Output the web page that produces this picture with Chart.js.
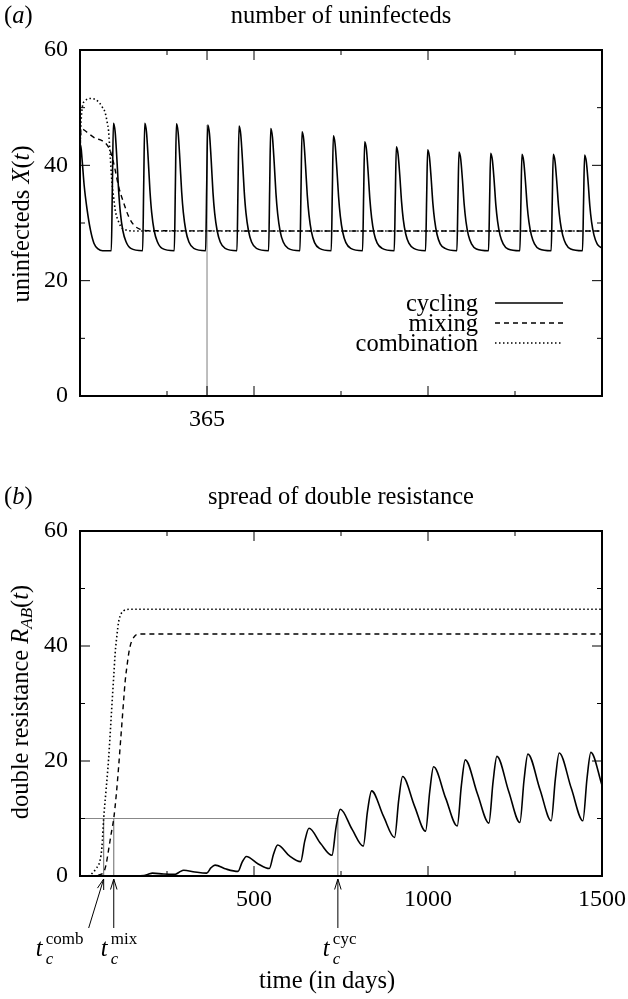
<!DOCTYPE html>
<html>
<head>
<meta charset="utf-8">
<script src="https://cdn.jsdelivr.net/npm/chart.js@4.4.0/dist/chart.umd.min.js"></script>
<style>
  body { margin: 0; background: #fff; }
  #wrap { position: relative; width: 628px; height: 999px; font-family: 'Liberation Serif', 'Times New Roman', serif; color: #000; }
  canvas { position: absolute; left: 0; }
  .txt { position: absolute; font-size: 24.5px; line-height: 1; white-space: nowrap; }
  .ctr { left: 80px; width: 522px; text-align: center; }
  .ytitle { position: absolute; font-size: 24.5px; line-height: 1; white-space: nowrap; transform: translate(-50%, -50%) rotate(-90deg); }
  .ytitle sub { font-size: 17px; vertical-align: -4px; }
  .tc { position: absolute; font-size: 24.5px; line-height: 1; height: 24px; }
  .tc span { position: absolute; font-size: 17px; line-height: 1; white-space: nowrap; }
</style>
</head>
<body>
<div id="wrap">
  <canvas id="chartA" width="628" height="460" style="top:0"></canvas>
  <canvas id="chartB" width="628" height="539" style="top:460px"></canvas>

  <div class="txt" style="left:4px; top:3px">(<i>a</i>)</div>
  <div class="txt ctr" style="top:3px">number of uninfecteds</div>
  <div class="ytitle" style="left:21px; top:224px">uninfecteds <i>X</i>(<i>t</i>)</div>

  <div class="txt" style="left:4px; top:484px">(<i>b</i>)</div>
  <div class="txt ctr" style="top:484px">spread of double resistance</div>
  <div class="ytitle" style="left:21px; top:702px">double resistance <i>R</i><sub><i>AB</i></sub>(<i>t</i>)</div>

  <div class="txt" style="left:259px; top:968px">time (in days)</div>
</div>
<script>
// ---------- data: panel (a) number of uninfecteds ----------
var tCycA = [0, 2, 6, 12, 20, 30, 40, 52, 65,
  90, 93, 96, 101, 106, 111, 116, 123, 132, 146,
  180, 183, 186, 191, 196, 201, 206, 213, 222, 236,
  271, 274, 277, 282, 287, 292, 297, 304, 313, 327,
  361, 364, 367, 372, 377, 382, 387, 394, 403, 417,
  451, 454, 457, 462, 467, 472, 477, 484, 493, 507,
  542, 545, 548, 553, 558, 563, 568, 575, 584, 598,
  632, 635, 638, 643, 648, 653, 658, 665, 674, 688,
  722, 725, 728, 733, 738, 743, 748, 755, 764, 778,
  812, 815, 818, 823, 828, 833, 838, 845, 854, 868,
  903, 906, 909, 914, 919, 924, 929, 936, 945, 959,
  993, 996, 999, 1004, 1009, 1014, 1019, 1026, 1035, 1049,
  1083, 1086, 1089, 1094, 1099, 1104, 1109, 1116, 1125, 1139,
  1174, 1177, 1180, 1185, 1190, 1195, 1200, 1207, 1216, 1230,
  1264, 1267, 1270, 1275, 1280, 1285, 1290, 1297, 1306, 1320,
  1354, 1357, 1360, 1365, 1370, 1375, 1380, 1387, 1396, 1410,
  1444, 1447, 1450, 1455, 1460, 1465, 1470, 1477, 1486, 1500];
var xCycA = [40, 43.5, 41, 36.5, 32.5, 28.8, 26.5, 25.5, 25.2,
  25.2, 36.3, 47.3, 45.8, 41.1, 35.6, 31.8, 28.7, 26.8, 25.6,
  25.2, 36.3, 47.3, 45.8, 41.1, 35.6, 31.8, 28.7, 26.8, 25.6,
  25.2, 36.2, 47.2, 45.7, 41.0, 35.5, 31.8, 28.7, 26.7, 25.6,
  25.2, 36.1, 47.0, 45.5, 40.9, 35.4, 31.7, 28.7, 26.7, 25.6,
  25.2, 36.0, 46.8, 45.3, 40.8, 35.4, 31.7, 28.7, 26.7, 25.6,
  25.2, 35.8, 46.4, 44.9, 40.5, 35.2, 31.6, 28.6, 26.7, 25.6,
  25.2, 35.5, 45.8, 44.4, 40.0, 34.9, 31.4, 28.5, 26.6, 25.6,
  25.2, 35.2, 45.1, 43.7, 39.5, 34.6, 31.2, 28.4, 26.6, 25.6,
  25.2, 34.7, 44.1, 42.8, 38.8, 34.1, 30.9, 28.2, 26.5, 25.6,
  25.2, 34.2, 43.2, 41.9, 38.2, 33.7, 30.6, 28.1, 26.5, 25.6,
  25.2, 34.0, 42.7, 41.5, 37.8, 33.4, 30.5, 28.0, 26.4, 25.6,
  25.2, 33.8, 42.3, 41.1, 37.5, 33.2, 30.3, 27.9, 26.4, 25.5,
  25.2, 33.7, 42.1, 40.9, 37.4, 33.1, 30.3, 27.9, 26.4, 25.5,
  25.2, 33.6, 41.9, 40.7, 37.2, 33.0, 30.2, 27.9, 26.4, 25.5,
  25.2, 33.6, 41.9, 40.7, 37.2, 33.0, 30.2, 27.9, 26.4, 25.5,
  25.2, 33.5, 41.8, 40.6, 37.2, 33.0, 30.2, 27.9, 26.4, 25.6];
var tMixA = [0, 3, 10, 25, 44, 63, 77, 87, 95, 101, 111, 126, 140, 154, 173, 200, 1500];
var xMixA = [42, 46.3, 46.2, 45.5, 44.7, 44.3, 43.6, 42.5, 40.8, 39.2, 36.3, 33.4, 31.1, 29.7, 28.9, 28.65, 28.6];
var tComA = [0, 3, 7, 15, 30, 45, 55, 65, 72, 78, 82, 87, 92, 97, 101, 111, 121, 135, 160, 1500];
var xComA = [42.5, 47.5, 50.2, 51.2, 51.6, 51.4, 50.9, 50.0, 49.2, 47.5, 46.0, 41.5, 36.9, 34.3, 32.3, 30.2, 29.1, 28.75, 28.6, 28.6];
var markDay = 365, markTop = 47.0;

// ---------- data: panel (b) spread of double resistance ----------
var tCycB = [0, 120, 184, 196, 208, 240, 274, 286, 298, 330, 364, 376, 388, 420, 454, 466, 478,
  512, 544, 556, 568, 602, 634, 646, 658, 692, 724, 736, 748, 782, 814, 826, 838,
  872, 904, 916, 927, 961, 993, 1005, 1016, 1051, 1084, 1096, 1107, 1142, 1175, 1187, 1198,
  1232, 1264, 1276, 1287, 1322, 1354, 1366, 1377, 1412, 1445, 1457, 1468, 1500];
var rCycB = [0, 0.02, 0.1, 0.3, 0.5, 0.35, 0.3, 0.7, 1.0, 0.7, 0.5, 1.4, 1.9, 1.2, 0.8, 2.4, 3.4,
  2.1, 1.3, 3.8, 5.4, 3.5, 2.5, 6.1, 8.3, 5.6, 3.6, 8.6, 11.6, 8.1, 5.2, 11.2, 14.8,
  10.4, 6.7, 13.3, 17.3, 12.2, 7.8, 14.7, 19.0, 13.5, 8.7, 15.8, 20.2, 14.3, 9.2, 16.4, 20.8,
  14.7, 9.3, 16.7, 21.2, 15.0, 9.6, 16.9, 21.4, 15.2, 9.6, 17.0, 21.5, 15.8];
var tMixB = [0, 50, 60, 68, 75, 82, 90, 97, 104, 111, 116, 121, 126, 130, 135, 140, 145, 150, 157, 164, 180, 1500];
var rMixB = [0, 0.1, 0.3, 0.6, 2.0, 4.5, 7.5, 10, 14, 19, 23, 27, 31, 34, 36.5, 38.7, 40.2, 41.0, 41.7, 42.0, 42.1, 42.1];
var tComB = [0, 25, 34, 45, 58, 63, 68, 75, 82, 87, 92, 97, 101, 106, 111, 118, 125, 135, 145, 1500];
var rComB = [0, 0.05, 0.4, 1.2, 2.8, 5, 10, 15, 20.2, 25, 30, 34.8, 38.7, 41.8, 44.2, 45.6, 46.1, 46.35, 46.4, 46.4];
var threshold = 10;
var tcNames = ['comb', 'mix', 'cyc'];
var tcDays = [68, 97, 741];

// ---------- tick values ----------
var xLabelsA = [365];
var xLabelsB = [500, 1000, 1500];
var xMajorA = [365, 500, 1000];
var xMajorB = [500, 1000];
var xMinor = [250, 750, 1250];
var yLabels = [0, 20, 40, 60];
var yMajor = [20, 40];
var yMinor = [10, 30, 50];
var seriesNames = ['cycling', 'mixing', 'combination'];

var FONT = "'Liberation Serif', 'Times New Roman', serif";

function pts(ts, vs) {
  return ts.map(function (t, i) { return { x: t, y: vs[i] }; });
}

function curve(label, data, dash, width) {
  return {
    label: label, data: data, borderColor: '#000', borderWidth: width, borderDash: dash,
    pointRadius: 0, fill: false, cubicInterpolationMode: 'monotone'
  };
}

function guide(data, color) {
  return { label: '', data: data, borderColor: color, borderWidth: 1.1, pointRadius: 0, fill: false, tension: 0 };
}

// frame with inward ticks on all four sides (gnuplot look)
var frameTicks = {
  id: 'frameTicks',
  afterDatasetsDraw: function (chart, args, o) {
    var ctx = chart.ctx, a = chart.chartArea, x = chart.scales.x, y = chart.scales.y;
    ctx.save();
    ctx.strokeStyle = '#000';
    ctx.lineWidth = 1;
    ctx.setLineDash([]);
    function seg(x1, y1, x2, y2) { ctx.beginPath(); ctx.moveTo(x1, y1); ctx.lineTo(x2, y2); ctx.stroke(); }
    function xt(v, len) { var p = x.getPixelForValue(v); seg(p, a.bottom, p, a.bottom - len); seg(p, a.top, p, a.top + len); }
    function yt(v, len) { var p = y.getPixelForValue(v); seg(a.left, p, a.left + len, p); seg(a.right, p, a.right - len, p); }
    o.xMajor.forEach(function (v) { xt(v, 10); });
    o.xMinor.forEach(function (v) { xt(v, 5); });
    o.yMajor.forEach(function (v) { yt(v, 10); });
    o.yMinor.forEach(function (v) { yt(v, 5); });
    ctx.lineWidth = 2;
    ctx.strokeRect(a.left, a.top, a.right - a.left, a.bottom - a.top);
    ctx.restore();
  }
};

// key inside the plot: text right aligned, sample line to its right
var lineKey = {
  id: 'lineKey',
  afterDatasetsDraw: function (chart, args, o) {
    if (!o.show) return;
    var ctx = chart.ctx;
    ctx.save();
    ctx.font = '24.5px ' + FONT;
    ctx.textAlign = 'right';
    ctx.textBaseline = 'alphabetic';
    ctx.fillStyle = '#000';
    chart.data.datasets.filter(function (d) { return d.label; }).forEach(function (d, i) {
      var yb = o.y + i * o.dy;
      ctx.fillText(d.label, o.x, yb);
      ctx.setLineDash(d.borderDash || []);
      ctx.lineWidth = d.borderWidth;
      ctx.strokeStyle = d.borderColor;
      ctx.beginPath();
      ctx.moveTo(o.x + 17, yb - 8);
      ctx.lineTo(o.x + 85, yb - 8);
      ctx.stroke();
    });
    ctx.restore();
  }
};

// arrows under the axis pointing at the crossing times
var tcArrows = {
  id: 'tcArrows',
  afterDraw: function (chart, args, o) {
    if (!o.show) return;
    var ctx = chart.ctx, a = chart.chartArea, x = chart.scales.x;
    ctx.save();
    ctx.strokeStyle = '#000';
    ctx.lineWidth = 1;
    ctx.setLineDash([]);
    tcDays.forEach(function (d, i) {
      var tipX = x.getPixelForValue(d), tipY = a.bottom + 3;
      var tailX = tipX + o.tailShift[i], tailY = a.bottom + 52;
      var ang = Math.atan2(tipY - tailY, tipX - tailX);
      ctx.beginPath();
      ctx.moveTo(tailX, tailY);
      ctx.lineTo(tipX, tipY);
      [0.3, -0.3].forEach(function (s) {
        ctx.moveTo(tipX, tipY);
        ctx.lineTo(tipX - 11 * Math.cos(ang + s), tipY - 11 * Math.sin(ang + s));
      });
      ctx.stroke();
    });
    ctx.restore();
  }
};

function scalesFor(xLabels) {
  return {
    x: {
      type: 'linear', min: 0, max: 1500,
      grid: { display: false, drawTicks: false }, border: { display: false },
      afterBuildTicks: function (s) { s.ticks = xLabels.map(function (v) { return { value: v }; }); },
      ticks: { autoSkip: false, maxRotation: 0, padding: 9, color: '#000', font: { family: FONT, size: 24 },
        callback: function (v) { return String(v); } },
      afterFit: function (s) { s.height = 40; s.paddingLeft = 0; s.paddingRight = 0; }
    },
    y: {
      type: 'linear', min: 0, max: 60,
      grid: { display: false, drawTicks: false }, border: { display: false },
      afterBuildTicks: function (s) { s.ticks = yLabels.map(function (v) { return { value: v }; }); },
      ticks: { padding: 12, color: '#000', font: { family: FONT, size: 24 },
        callback: function (v) { return String(v); } },
      afterFit: function (s) { s.width = 80; s.paddingTop = 0; s.paddingBottom = 0; }
    }
  };
}

var chartA = new Chart(document.getElementById('chartA').getContext('2d'), {
  type: 'line',
  data: {
    datasets: [
      curve(seriesNames[0], pts(tCycA, xCycA), [], 1.6),
      curve(seriesNames[1], pts(tMixA, xMixA), [5, 4], 1.4),
      curve(seriesNames[2], pts(tComA, xComA), [1.5, 2.5], 1.6),
      guide([{ x: markDay, y: 0 }, { x: markDay, y: markTop }], '#888')
    ]
  },
  options: {
    responsive: false, animation: false, devicePixelRatio: 1,
    layout: { padding: { left: 0, right: 26, top: 50, bottom: 24 } },
    scales: scalesFor(xLabelsA),
    plugins: {
      legend: { display: false }, tooltip: { enabled: false },
      frameTicks: { xMajor: xMajorA, xMinor: xMinor, yMajor: yMajor, yMinor: yMinor },
      lineKey: { show: true, x: 478, y: 311, dy: 20 }
    }
  },
  plugins: [frameTicks, lineKey]
});

var guidesB = [guide([{ x: 0, y: threshold }, { x: tcDays[2], y: threshold }], '#888')];
tcDays.forEach(function (d) {
  guidesB.push(guide([{ x: d, y: 0 }, { x: d, y: threshold }], '#777'));
});

var chartB = new Chart(document.getElementById('chartB').getContext('2d'), {
  type: 'line',
  data: {
    datasets: [
      curve(seriesNames[0], pts(tCycB, rCycB), [], 1.6),
      curve(seriesNames[1], pts(tMixB, rMixB), [5, 4], 1.4),
      curve(seriesNames[2], pts(tComB, rComB), [1.5, 2.5], 1.6)
    ].concat(guidesB)
  },
  options: {
    responsive: false, animation: false, devicePixelRatio: 1,
    layout: { padding: { left: 0, right: 26, top: 71, bottom: 83 } },
    scales: scalesFor(xLabelsB),
    plugins: {
      legend: { display: false }, tooltip: { enabled: false },
      frameTicks: { xMajor: xMajorB, xMinor: xMinor, yMajor: yMajor, yMinor: yMinor },
      tcArrows: { show: true, tailShift: [-15, 0, 0] }
    }
  },
  plugins: [frameTicks, tcArrows]
});

// crossing-time labels t_c^name placed under the arrow tails
var labelShift = [-53, -13, -15];
var wrap = document.getElementById('wrap');
tcDays.forEach(function (d, i) {
  var tail = chartB.scales.x.getPixelForValue(d) + [-15, 0, 0][i];
  var el = document.createElement('div');
  el.className = 'tc';
  el.style.left = (tail + labelShift[i]) + 'px';
  el.style.top = '936px';
  el.innerHTML = '<i>t</i><span style="left:10px; top:-6px">' + tcNames[i] + '</span>' +
    '<span style="left:10px; top:14px"><i>c</i></span>';
  wrap.appendChild(el);
});
</script>
</body>
</html>
